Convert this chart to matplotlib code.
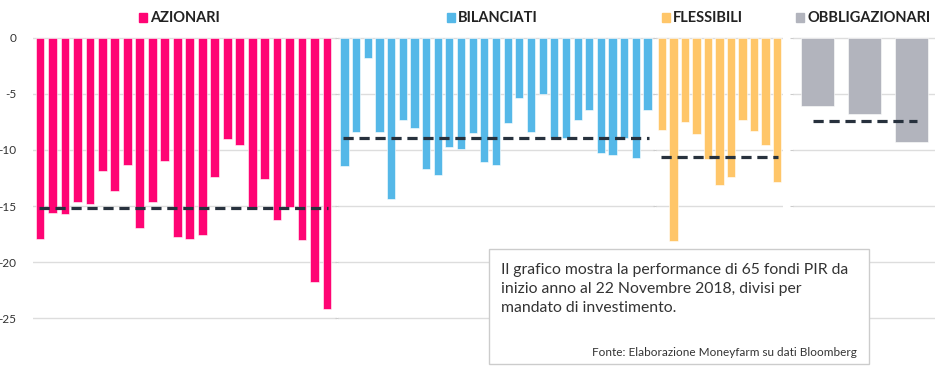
import matplotlib
matplotlib.use("Agg")
import matplotlib.pyplot as plt
from matplotlib.patches import Rectangle

W, H = 948, 376

# performance of the 65 PIR funds (%)
azionari = [-17.9, -15.6, -15.7, -14.6, -14.85, -11.9, -13.7, -11.3, -17.0, -14.6,
            -10.95, -17.8, -17.95, -17.6, -12.4, -9.05, -9.55, -15.2, -12.6, -16.25,
            -15.1, -18.0, -21.8, -24.2]
bilanciati = [-11.4, -8.4, -1.8, -8.4, -14.4, -7.3, -8.0, -11.7, -12.2, -9.7,
              -9.95, -8.5, -11.1, -11.3, -7.6, -5.35, -8.4, -5.05, -8.95, -8.95,
              -7.3, -6.4, -10.25, -10.45, -8.9, -10.75, -6.4]
flessibili = [-8.2, -18.1, -7.5, -8.6, -10.8, -13.1, -12.4, -7.3, -8.3, -9.6, -12.9]
obbligazionari = [-6.1, -6.8, -9.3]

group_names = ["AZIONARI", "BILANCIATI", "FLESSIBILI", "OBBLIGAZIONARI"]
group_means = [-15.2, -8.9, -10.6, -7.4]
group_colors = ["#FF0474", "#55B8E8", "#FFC669", "#B2B4BD"]
yticks = [0, -5, -10, -15, -20, -25]

note = ("Il grafico mostra la performance di 65 fondi PIR da\n"
        "inizio anno al 22 Novembre 2018, divisi per\n"
        "mandato di investimento.")
source = "Fonte: Elaborazione Moneyfarm su dati Bloomberg"

plt.rcParams['font.family'] = ['Lato', 'DejaVu Sans']
fig = plt.figure(figsize=(W / 100, H / 100), dpi=100)

# panel extents in pixels: (left, right, xlim)
panels = [(33, 337, (-0.56, 23.8)),
          (338, 655, (-0.56, 26.64)),
          (656, 783, (-0.52, 10.52)),
          (793, 935, (-0.52, 2.49))]
heads = [139, 447, 662, 796]   # x of the legend squares
data = [azionari, bilanciati, flessibili, obbligazionari]

y_top, y_bot = 35.5, 320.5
for i, (vals, (x0, x1, xl)) in enumerate(zip(data, panels)):
    ax = fig.add_axes([x0 / W, 1 - y_bot / H, (x1 - x0) / W, (y_bot - y_top) / H])
    xs = range(len(vals))
    ax.bar(xs, vals, width=0.7, color=group_colors[i], edgecolor='white',
           linewidth=0.4, zorder=2)
    ax.hlines(group_means[i], -0.1, len(vals) - 0.9, colors='#27313D', linewidth=2.3,
              linestyles=(0, (3.2, 1.8)), zorder=3)
    ax.set_xlim(*xl)
    ax.set_ylim(-25.2, 0.2)
    ax.set_yticks(yticks)
    ax.set_xticks([])
    ax.yaxis.grid(True, color='#dddddd', linewidth=1.0)
    ax.set_axisbelow(True)
    for s in ax.spines.values():
        s.set_visible(False)
    if i == 0:
        ax.set_yticklabels([str(t) for t in yticks])
        ax.tick_params(axis='y', length=0, pad=12, labelsize=8.5, labelcolor='#333333')
    else:
        ax.tick_params(axis='y', length=2.5, width=0.8, color='#cccccc', labelleft=False)

    # legend heading
    fig.add_artist(Rectangle((heads[i] / W, 1 - 22 / H), 7.5 / W, 9 / H,
                             transform=fig.transFigure, color=group_colors[i]))
    fig.text((heads[i] + 11) / W, 1 - 18 / H, group_names[i], ha='left', va='center',
             fontsize=10.5, fontweight='bold', color='#222222')

# note box
fig.add_artist(Rectangle((489 / W, 1 - 364 / H), 380 / W, 115 / H,
                         transform=fig.transFigure, facecolor='white',
                         edgecolor='#cccccc', linewidth=1.0, zorder=5))
fig.text(501 / W, 1 - 263 / H, note, ha='left', va='top', fontsize=11.3,
         color='#333333', linespacing=1.45, zorder=6)
fig.text(857 / W, 1 - 352 / H, source, ha='right', va='center', fontsize=8.5,
         color='#333333', zorder=6)

fig.savefig("out.png", dpi=100)
